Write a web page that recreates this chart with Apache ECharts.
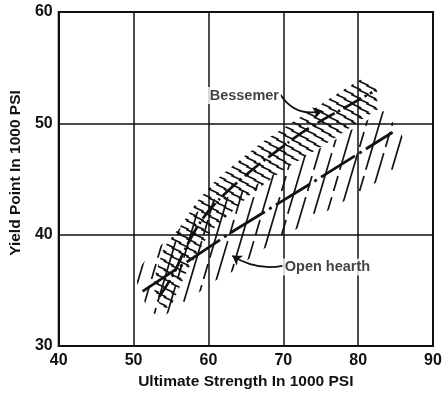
<!DOCTYPE html>
<html><head><meta charset="utf-8">
<script src="https://cdn.jsdelivr.net/npm/echarts@6/dist/echarts.min.js"></script>
<style>html,body{margin:0;padding:0;background:#fff}#c{width:448px;height:395px}</style>
</head><body><div id="c"></div>
<script>
// ---- data ----
const xTicks = [40, 50, 60, 70, 80, 90];
const yTicks = [30, 40, 50, 60];

const bessemerX = [53.4, 55.2, 56.9, 58.9, 60.9, 64.9, 69.7, 73.5, 79.0, 81.9];
const bessemerY = [34.4, 36.3, 38.7, 41.1, 42.8, 45.3, 47.8, 49.6, 51.7, 52.8];

const openX = [51.2, 63.5, 73.7, 84.6];
const openY = [34.9, 40.4, 44.6, 49.2];

// scatter band outlines (upper edge left->right, then lower edge right->left)
const bessBandX = [52.8, 54, 56.3, 58.5, 61, 64.7, 67.6, 71, 75, 78, 80.5, 82.5, 82.6, 81, 76.7, 73.6, 70, 65.6, 63.2, 60.3, 57.2, 56.3, 55, 54, 52.8];
const bessBandY = [36.2, 38.8, 40.8, 43, 44.9, 47, 48.5, 50, 51.7, 53, 54, 53.6, 51.2, 50.6, 48.6, 47.3, 45.8, 43.6, 42.1, 40.3, 36.8, 35.5, 33.6, 33.3, 34.4];

const openBandX = [50.3, 52.3, 55, 58, 61, 65.6, 69.6, 72.5, 75.7, 80, 83.4, 85.2, 86.5, 85.6, 83.9, 82, 79.9, 76.3, 74, 71, 68.7, 66, 63, 60.7, 57.9, 55.9, 53.9, 52, 50.5];
const openBandY = [36.6, 38.3, 39.8, 41.8, 43.3, 44.2, 45.8, 47, 48, 49.8, 51.1, 49.6, 48.2, 46, 45.3, 44.5, 43.7, 42.3, 41.4, 40.2, 39.3, 38.1, 36.6, 35.8, 34.4, 33.6, 32.6, 33.1, 35.6];

const labelNames = ['Bessemer', 'Open hearth'];
const labelX = [64.8, 75.9];
const labelY = [52.5, 37.1];

const arrowFromX = [69.6, 69.9];
const arrowFromY = [52.6, 37.2];
const arrowToX = [75.2, 63.2];
const arrowToY = [51.1, 38.1];

// ---- hatch patterns (style only) ----
function makeTile(w, h, draw) {
  const c = document.createElement('canvas');
  c.width = w; c.height = h;
  const g = c.getContext('2d');
  g.strokeStyle = '#111';
  g.lineCap = 'butt';
  for (const ox of [-w, 0, w]) for (const oy of [-h, 0, h]) draw(g, ox, oy);
  return { image: c, repeat: 'repeat' };
}
const bessPattern = makeTile(15, 9, (g, ox, oy) => {
  g.lineWidth = 1.7;
  for (const [cx, cy] of [[3.75, 2.25], [11.25, 6.75]]) {
    g.beginPath();
    g.moveTo(cx - 5 + ox, cy - 2.2 + oy);
    g.lineTo(cx + 5 + ox, cy + 2.2 + oy);
    g.stroke();
  }
});
const openPattern = makeTile(26, 44, (g, ox, oy) => {
  g.lineWidth = 1.7;
  const segs = [[0, 0.14, 1.0], [13, 0.0, 0.52], [13, 0.66, 1.0]];
  for (const [x0, t0, t1] of segs) {
    g.beginPath();
    g.moveTo(x0 + 13 * t0 + ox, 44 - 44 * t0 + oy);
    g.lineTo(x0 + 13 * t1 + ox, 44 - 44 * t1 + oy);
    g.stroke();
  }
});

function bandSeries(xs, ys, pattern) {
  return {
    type: 'custom', coordinateSystem: 'cartesian2d', silent: true, z: 2,
    data: xs.map((x, i) => [x, ys[i]]),
    encode: { x: 0, y: 1 },
    renderItem: (params, api) => {
      if (params.dataIndex !== 0) return null;
      const pts = xs.map((x, i) => api.coord([x, ys[i]]));
      return { type: 'polygon', shape: { points: pts }, style: { fill: pattern, stroke: null } };
    }
  };
}

const FONT = 'Liberation Sans';
const chart = echarts.init(document.getElementById('c'), null, { renderer: 'canvas' });
chart.setOption({
  animation: false,
  backgroundColor: '#fff',
  grid: { left: 55, right: 15, top: 12, bottom: 48, show: true, borderColor: '#111', borderWidth: 2, backgroundColor: 'transparent' },
  xAxis: {
    type: 'value', min: xTicks[0], max: xTicks[xTicks.length - 1], interval: xTicks[1] - xTicks[0],
    name: 'Ultimate Strength In 1000 PSI', nameLocation: 'middle', nameGap: 28,
    nameTextStyle: { fontFamily: FONT, fontSize: 15.5, fontWeight: 'bold', color: '#111' },
    axisLine: { lineStyle: { color: '#111', width: 2 } },
    axisTick: { show: false },
    axisLabel: { fontFamily: FONT, fontSize: 16, fontWeight: 'bold', color: '#111', margin: 7 },
    splitLine: { lineStyle: { color: '#111', width: 1.5 } }
  },
  yAxis: {
    type: 'value', min: yTicks[0], max: yTicks[yTicks.length - 1], interval: yTicks[1] - yTicks[0],
    name: 'Yield Point In 1000 PSI', nameLocation: 'middle', nameGap: 31,
    nameTextStyle: { fontFamily: FONT, fontSize: 15.5, fontWeight: 'bold', color: '#111', padding: [0, 0, 0, 12] },
    axisLine: { lineStyle: { color: '#111', width: 2 } },
    axisTick: { show: false },
    axisLabel: { fontFamily: FONT, fontSize: 16, fontWeight: 'bold', color: '#111', margin: 6 },
    splitLine: { lineStyle: { color: '#111', width: 1.5 } }
  },
  series: [
    bandSeries(openBandX, openBandY, openPattern),
    bandSeries(bessBandX, bessBandY, bessPattern),
    {
      type: 'line', z: 5, smooth: 0.4, showSymbol: false, silent: true,
      data: bessemerX.map((x, i) => [x, bessemerY[i]]),
      lineStyle: { color: '#111', width: 2.7, type: [20, 4, 2, 4] }
    },
    {
      type: 'line', z: 5, showSymbol: false, silent: true,
      data: openX.map((x, i) => [x, openY[i]]),
      lineStyle: { color: '#111', width: 2.8, type: [40, 5, 3, 5] }
    },
    {
      type: 'lines', coordinateSystem: 'cartesian2d', z: 6, silent: true,
      symbol: ['none', 'arrow'], symbolSize: [0, 9],
      data: arrowFromX.map((x, i) => ({ coords: [[x, arrowFromY[i]], [arrowToX[i], arrowToY[i]]], lineStyle: { curveness: i === 0 ? -0.35 : 0.2 } })),
      lineStyle: { color: '#111', width: 1.8, opacity: 1 }
    },
    {
      type: 'scatter', z: 7, symbolSize: 0, silent: true,
      data: labelX.map((x, i) => [x, labelY[i]]),
      label: {
        show: true, position: 'inside', formatter: p => labelNames[p.dataIndex],
        fontFamily: FONT, fontSize: 14.5, fontWeight: 'bold', color: '#111',
        backgroundColor: '#fff', padding: [1, 2]
      }
    }
  ]
});
</script></body></html>
